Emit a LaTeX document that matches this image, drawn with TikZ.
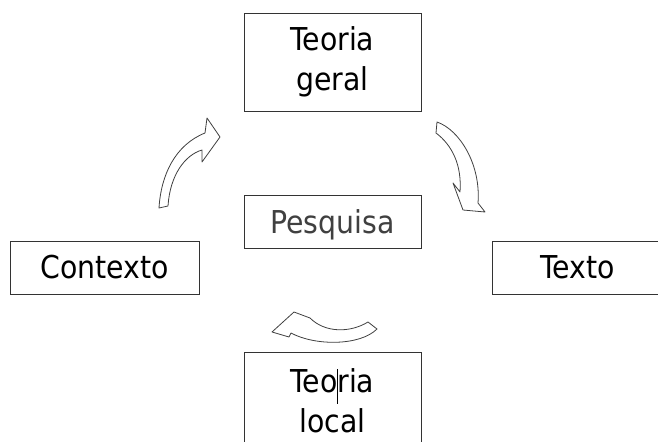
\documentclass[tikz,border=0pt]{standalone}
\usepackage{fontspec}
\setmainfont{DejaVu Sans Condensed}
\begin{document}
\begin{tikzpicture}[x=1bp,y=-1bp,
    caixa/.style={draw=black!80, line width=0.8bp, fill=white, inner sep=0pt,
      align=center, font=\fontsize{31.5bp}{40bp}\selectfont},
    seta/.style={draw=black!75, line width=0.8bp, fill=white, line join=round}]

  \useasboundingbox (0,0) rectangle (658,442);

  % Caixas
  \node[caixa, minimum width=177bp, minimum height=98bp] (geral) at (332.5,62) {Teoria\\geral};
  \node[caixa, minimum width=177bp, minimum height=53bp, text depth=0pt,
        text=black!75] (pesquisa) at (332.5,221.5) {Pesquisa};
  \node[caixa, minimum width=189bp, minimum height=53bp] (contexto) at (104.5,267.5) {Contexto};
  \node[caixa, minimum width=172bp, minimum height=53bp] (texto) at (578,267.5) {Texto};
  \node[caixa, minimum width=177bp, minimum height=98bp] (local) at (332.5,401)
        {Teo\rlap{\rule[-11bp]{0.8bp}{35bp}}ria\\local};

  % Setas curvas
  \draw[seta] (159,208) .. controls (161,175) and (175,145) .. (205,133)
    -- (207,118) -- (220,137) -- (202,162) -- (202,150)
    .. controls (185,155) and (170,175) .. (168,206) -- cycle;
  \draw[seta] (437,122) .. controls (460,130) and (481,165) .. (478,203)
    -- (485,212) -- (463,210) -- (453,183) -- (460,192)
    .. controls (462,165) and (452,145) .. (436,133) -- cycle;
  \draw[seta] (377,329) .. controls (360,346) and (315,346) .. (291,333)
    -- (289,337) -- (272,332) -- (294,312) -- (310,318)
    .. controls (325,333) and (350,333) .. (368,322) -- cycle;

\end{tikzpicture}
\end{document}
